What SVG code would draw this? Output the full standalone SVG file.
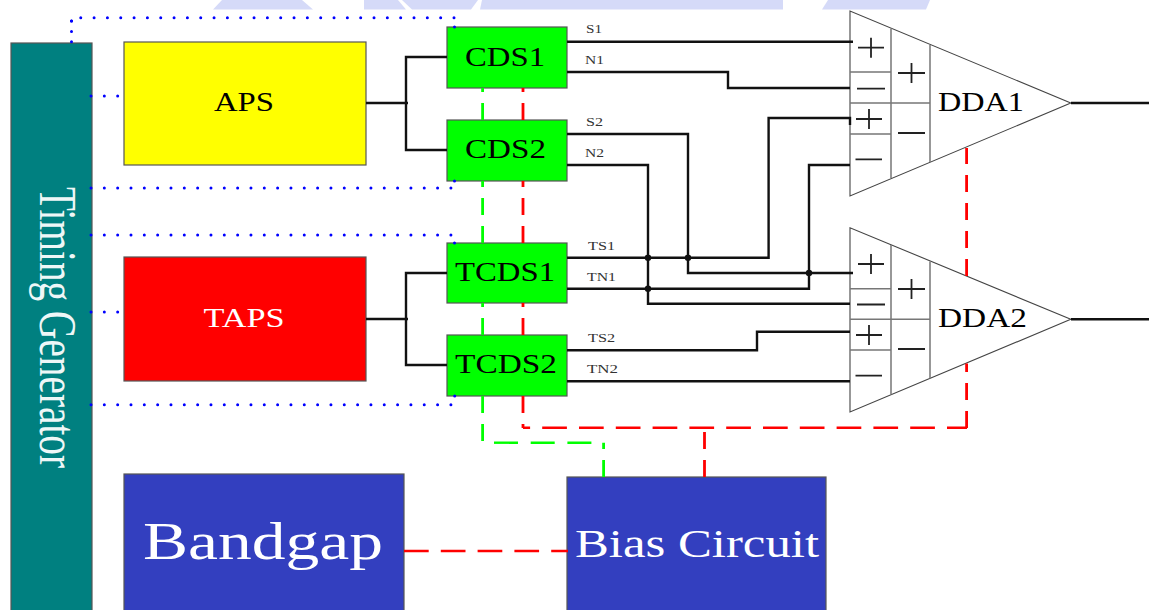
<svg xmlns="http://www.w3.org/2000/svg" width="1150" height="610" viewBox="0 0 1150 610">
<style>
text{font-family:"Liberation Serif","Times New Roman",serif;fill:#000}
.box{stroke:#555;stroke-width:1.2}
.w{fill:none;stroke:#111;stroke-width:2.400}
.dot{fill:none;stroke:#00f;stroke-width:3;stroke-linecap:round;stroke-dasharray:0 13.33}
.dotv{fill:none;stroke:#00f;stroke-width:3;stroke-linecap:round;stroke-dasharray:0 10.4}
.end{fill:none;stroke:#00f;stroke-width:3;stroke-linecap:round}
.rh{fill:none;stroke:#f00;stroke-width:2.400;stroke-dasharray:24.7 12.1}
.rv{fill:none;stroke:#f00;stroke-width:2.800;stroke-dasharray:17 11}
.gh{fill:none;stroke:#0f0;stroke-width:2.400;stroke-dasharray:24 12.700}
.gv{fill:none;stroke:#0f0;stroke-width:2.800;stroke-dasharray:17 11}
.t{fill:none;stroke:#444;stroke-width:1.1}
.d{fill:none;stroke:#777;stroke-width:1.500}
.sign{fill:none;stroke:#222;stroke-width:1.800}
.lab{font-size:12.500px;fill:#333}
.cds{font-size:28px}
.lt{fill:#fff}
.wm{fill:#d5daf8}
</style>
<rect width="1150" height="610" fill="#fff"/>
<g id="watermark">
<path class="wm" d="M213 9.500L222 0H302L313 9.500Z"/>
<path class="wm" d="M364 0H398L406 9.500H364Z"/>
<path class="wm" d="M402 0H478L471 9.500H412Z"/>
<path class="wm" d="M482 0H783V9.500H480Z"/>
<path class="wm" d="M828 0H930L926 9.500H822Z"/>
</g>
<g id="timing"><rect class="box" x="11" y="43" width="81" height="580" fill="#008080"/>
<text class="lt" transform="translate(40,187) rotate(90)" font-size="53" textLength="281" lengthAdjust="spacingAndGlyphs" style="fill:#eef7f7">Timing Generator</text></g>
<g id="aps"><rect class="box" x="124" y="42" width="242" height="123" fill="#ff0"/><text x="214" y="111" font-size="27" textLength="60" lengthAdjust="spacingAndGlyphs">APS</text></g>
<g id="taps"><rect class="box" x="124" y="257" width="242" height="124" fill="#f00"/><text class="lt" x="203.500" y="326.500" font-size="27" textLength="81" lengthAdjust="spacingAndGlyphs">TAPS</text></g>
<g id="cds1"><rect class="box" x="447" y="27" width="120" height="61" fill="#0f0"/><text class="cds" x="465" y="65.500" textLength="80" lengthAdjust="spacingAndGlyphs">CDS1</text></g>
<g id="cds2"><rect class="box" x="447" y="120" width="120" height="61" fill="#0f0"/><text class="cds" x="465" y="157.500" textLength="81" lengthAdjust="spacingAndGlyphs">CDS2</text></g>
<g id="tcds1"><rect class="box" x="447" y="243" width="120" height="60" fill="#0f0"/><text class="cds" x="455" y="281" textLength="100" lengthAdjust="spacingAndGlyphs">TCDS1</text></g>
<g id="tcds2"><rect class="box" x="447" y="335" width="120" height="61" fill="#0f0"/><text class="cds" x="455" y="373" textLength="102" lengthAdjust="spacingAndGlyphs">TCDS2</text></g>
<g id="bandgap"><rect class="box" x="124" y="474" width="280" height="150" fill="#333fbf"/><text class="lt" x="143" y="559" font-size="53" textLength="240" lengthAdjust="spacingAndGlyphs">Bandgap</text></g>
<g id="bias"><rect class="box" x="567" y="477" width="259" height="150" fill="#333fbf"/><text class="lt" x="575" y="556.500" font-size="40" textLength="244" lengthAdjust="spacingAndGlyphs">Bias Circuit</text></g>
<g id="dda1"><path class="t" d="M850 11V196L1070.800 103Z"/>
<path class="d" d="M891 28.500V178M930 45V162M850 72H891M850 103H930M850 134H891"/>
<path class="sign" d="M858 47.700H884M871 37.700V57.700M898 73H925M911.500 63V83M857 88.700H885M856 119H882M869 109V129M898 133H925M855.500 159.300H882"/>
<text x="938" y="111" font-size="28" textLength="86" lengthAdjust="spacingAndGlyphs">DDA1</text></g>
<g id="dda2"><path class="t" d="M850 227.700V412L1070.800 319.300Z"/>
<path class="d" d="M891 245V394.500M930 261.500V378.500M850 288.700H891M850 319.300H930M850 350H891"/>
<path class="sign" d="M858 264H884M871 254V274M898 289H925M911.500 279V299M857 304.500H885M856 335H882M869 325V345M898 349H925M855.500 375.700H882"/>
<text x="938" y="326.500" font-size="28" textLength="89" lengthAdjust="spacingAndGlyphs">DDA2</text></g>
<g id="connectors">
<path class="dot" d="M454 17.700H80"/>
<path class="end" d="M71.500 21h0M454.500 27h0M454.500 181h0M454.500 243h0M454.700 396h0"/>
<path class="dotv" d="M71.500 21V42"/>
<path class="dot" d="M91 96H120"/>
<path class="dot" d="M91 188H452"/>
<path class="dot" d="M91 235H452"/>
<path class="dot" d="M91 312H120"/>
<path class="dot" d="M91 404.700H452"/>
<path class="w" d="M366 103H408M447 57H406V150H447"/>
<path class="w" d="M366 319H408M447 273H406V365H447"/>
<path class="w" d="M567 41.700H853M567 72H728V88H850"/>
<path class="w" d="M567 134H688V273H853"/>
<path class="w" d="M567 165H648V303.700H850"/>
<path class="w" d="M567 257.700H768.600V118H850V125"/>
<path class="w" d="M567 288.700H809V165H850"/>
<path class="w" d="M567 350.300H757V331.700H850M567 381.300H850"/>
<path class="w" d="M1071 103H1149M1071 319.300H1149"/>
<g fill="#111"><circle cx="648" cy="257.700" r="3.200"/><circle cx="688" cy="257.700" r="3.200"/><circle cx="809" cy="273" r="3.200"/><circle cx="648" cy="288.700" r="3.200"/></g>
<path class="gv" d="M482.600 120V88M482.600 243V181M482.600 335V303M482.600 441V396M603.600 477V442.700"/>
<path class="gh" d="M494 442.700H592"/>
<path class="rv" d="M523 120V88M523 243V181M523 335V303M523 413V396"/>
<path class="rv" d="M523 428V424" style="stroke-dasharray:none"/>
<path class="rv" d="M966.600 428V363.500M966.600 276V148M704.500 477V432"/>
<path class="rh" d="M967 427.700H523" stroke-dashoffset="4.700"/>
<path class="rh" d="M404 551H568"/>
</g>
<g id="labels">
<text class="lab" x="586" y="33" textLength="16" lengthAdjust="spacingAndGlyphs">S1</text>
<text class="lab" x="585" y="64" textLength="19" lengthAdjust="spacingAndGlyphs">N1</text>
<text class="lab" x="586" y="126" textLength="17" lengthAdjust="spacingAndGlyphs">S2</text>
<text class="lab" x="585" y="157" textLength="19" lengthAdjust="spacingAndGlyphs">N2</text>
<text class="lab" x="588" y="250" textLength="27" lengthAdjust="spacingAndGlyphs">TS1</text>
<text class="lab" x="587" y="281" textLength="29" lengthAdjust="spacingAndGlyphs">TN1</text>
<text class="lab" x="588" y="342" textLength="27" lengthAdjust="spacingAndGlyphs">TS2</text>
<text class="lab" x="587" y="373" textLength="31" lengthAdjust="spacingAndGlyphs">TN2</text>
</g>
</svg>
